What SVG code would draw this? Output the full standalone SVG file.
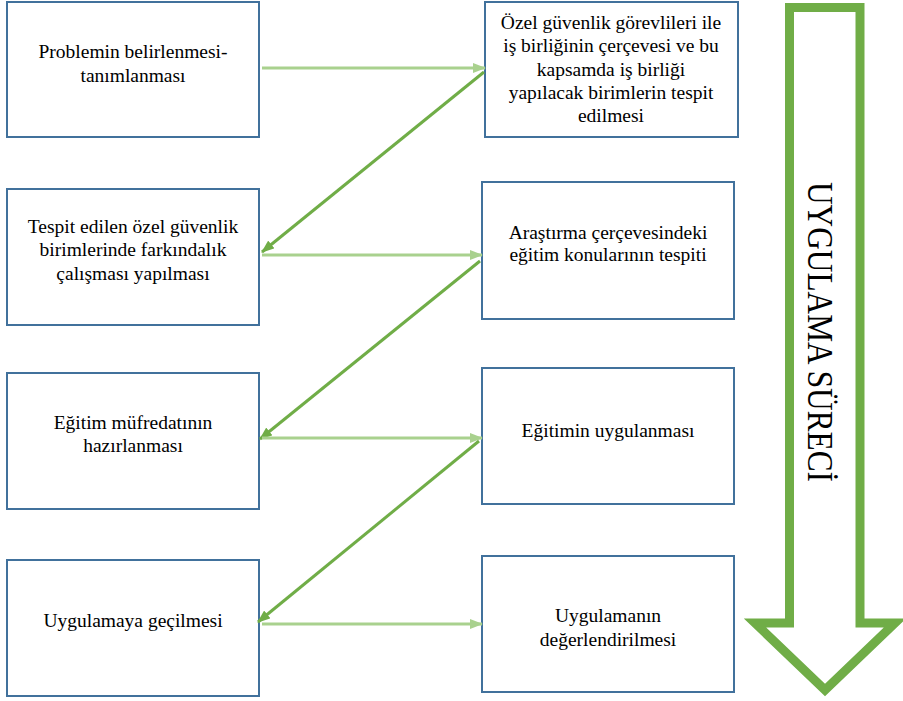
<svg xmlns="http://www.w3.org/2000/svg" width="903" height="701" viewBox="0 0 903 701" font-family="'Liberation Serif', 'Times New Roman', serif">
<style>
.box{fill:#fff;stroke:#41719C;stroke-width:2}
.t{font-family:'Liberation Serif', 'Times New Roman', serif;font-size:19.5px;fill:#000;text-anchor:middle}
.h{stroke:#A9D18E;stroke-width:3;fill:none}
.d{stroke:#70AD47;stroke-width:3;fill:none}
</style>
<defs>
<marker id="ah" viewBox="0 0 13 10" refX="12" refY="5" markerWidth="13" markerHeight="10" markerUnits="userSpaceOnUse" orient="auto"><path d="M0,0 L13,5 L0,10 z" fill="#A9D18E"/></marker>
<marker id="ad" viewBox="0 0 13 10" refX="12" refY="5" markerWidth="13" markerHeight="10" markerUnits="userSpaceOnUse" orient="auto"><path d="M0,0 L13,5 L0,10 z" fill="#70AD47"/></marker>
</defs>
<rect width="903" height="701" fill="#fff"/>
<g id="process-arrow">
<polygon points="789.5,7.5 860,7.5 860,623 895,623 825,690 755,623 789.5,623" fill="#fff" stroke="#70AD47" stroke-width="9"/>
<text transform="translate(808,332) rotate(90)" font-family="'Liberation Serif', 'Times New Roman', serif" font-size="36" text-anchor="middle" textLength="300" lengthAdjust="spacingAndGlyphs">UYGULAMA SÜRECİ</text>
</g>
<g id="n1"><rect class="box" x="7" y="2" width="252" height="135"/><text class="t" x="133" y="58">Problemin belirlenmesi-</text><text class="t" x="133" y="82">tanımlanması</text></g>
<g id="n2"><rect class="box" x="485" y="2" width="253" height="135"/><text class="t" x="611" y="29">Özel güvenlik görevlileri ile</text><text class="t" x="611" y="52">iş birliğinin çerçevesi ve bu</text><text class="t" x="611" y="76">kapsamda iş birliği</text><text class="t" x="611" y="99">yapılacak birimlerin tespit</text><text class="t" x="611" y="122">edilmesi</text></g>
<g id="n3"><rect class="box" x="7" y="189" width="252" height="136"/><text class="t" x="133" y="233">Tespit edilen özel güvenlik</text><text class="t" x="133" y="256">birimlerinde farkındalık</text><text class="t" x="133" y="280">çalışması yapılması</text></g>
<g id="n4"><rect class="box" x="482" y="182" width="252" height="137"/><text class="t" x="608" y="239">Araştırma çerçevesindeki</text><text class="t" x="608" y="261">eğitim konularının tespiti</text></g>
<g id="n5"><rect class="box" x="7" y="373" width="252" height="136"/><text class="t" x="133" y="429">Eğitim müfredatının</text><text class="t" x="133" y="452">hazırlanması</text></g>
<g id="n6"><rect class="box" x="482" y="368" width="252" height="136"/><text class="t" x="608" y="437">Eğitimin uygulanması</text></g>
<g id="n7"><rect class="box" x="7" y="560" width="252" height="136"/><text class="t" x="133" y="627">Uygulamaya geçilmesi</text></g>
<g id="n8"><rect class="box" x="482" y="556" width="252" height="136"/><text class="t" x="608" y="622">Uygulamanın</text><text class="t" x="608" y="646">değerlendirilmesi</text></g>
<g id="connectors">
<line class="h" x1="262" y1="68" x2="485" y2="68" marker-end="url(#ah)"/>
<line class="d" x1="484" y1="72" x2="262" y2="252" marker-end="url(#ad)"/>
<line class="h" x1="262" y1="255" x2="482" y2="255" marker-end="url(#ah)"/>
<line class="d" x1="480" y1="261" x2="260" y2="439" marker-end="url(#ad)"/>
<line class="h" x1="262" y1="438" x2="482" y2="438" marker-end="url(#ah)"/>
<line class="d" x1="479" y1="441" x2="258" y2="622" marker-end="url(#ad)"/>
<line class="h" x1="262" y1="624" x2="482" y2="624" marker-end="url(#ah)"/>
</g>
</svg>
